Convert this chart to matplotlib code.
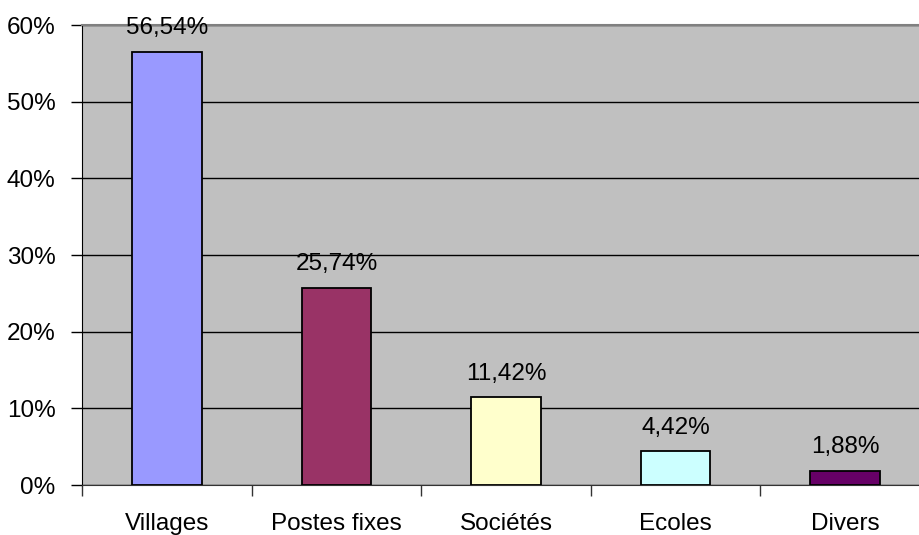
import matplotlib
matplotlib.use("Agg")
import matplotlib.pyplot as plt
from matplotlib.ticker import FuncFormatter

plt.rcParams['font.family'] = ['Liberation Sans', 'DejaVu Sans']

categories = ["Villages", "Postes fixes", "Sociétés", "Ecoles", "Divers"]
values = [56.54, 25.74, 11.42, 4.42, 1.88]
labels = ["56,54%", "25,74%", "11,42%", "4,42%", "1,88%"]
colors = ["#9999FF", "#993366", "#FFFFCC", "#CCFFFF", "#660066"]

fig = plt.figure(figsize=(9.19, 5.35), dpi=100)
W, H = 919, 535
ax = fig.add_axes([82 / W, 50 / H, 848 / W, 460 / H])
ax.set_facecolor("#C0C0C0")

x = list(range(len(categories)))
ax.bar(x, values, width=0.41, color=colors, edgecolor="black", linewidth=1.3, zorder=3)

for xi, v, lab in zip(x, values, labels):
    ax.annotate(lab, (xi, v), xytext=(0, 12.5), textcoords="offset points",
                ha="center", va="baseline", fontsize=17.5, zorder=4)

ax.set_xlim(-0.5, len(categories) - 0.5)
ax.set_ylim(0, 60)
ax.set_yticks(range(0, 61, 10))
ax.yaxis.set_major_formatter(FuncFormatter(lambda v, p: f"{int(v)}%"))
ax.grid(axis="y", color="black", linewidth=1, zorder=1)

# ticks on category boundaries, names in the middle
ax.set_xticks([i - 0.5 for i in range(len(categories) + 1)])
ax.set_xticklabels([])
ax.set_xticks(x, minor=True)
ax.set_xticklabels(categories, minor=True, fontsize=17.5)
ax.tick_params(axis="x", which="major", direction="out", length=8, width=1, color="#333333")
ax.tick_params(axis="x", which="minor", length=0, pad=20)
ax.tick_params(axis="y", direction="out", length=8, width=1, labelsize=17.5, pad=11)

ax.spines["top"].set_color("#808080")
ax.spines["top"].set_linewidth(1.5)
ax.spines["right"].set_visible(False)
ax.spines["left"].set_color("black")
ax.spines["bottom"].set_color("#333333")

fig.savefig("out.png", dpi=100)
